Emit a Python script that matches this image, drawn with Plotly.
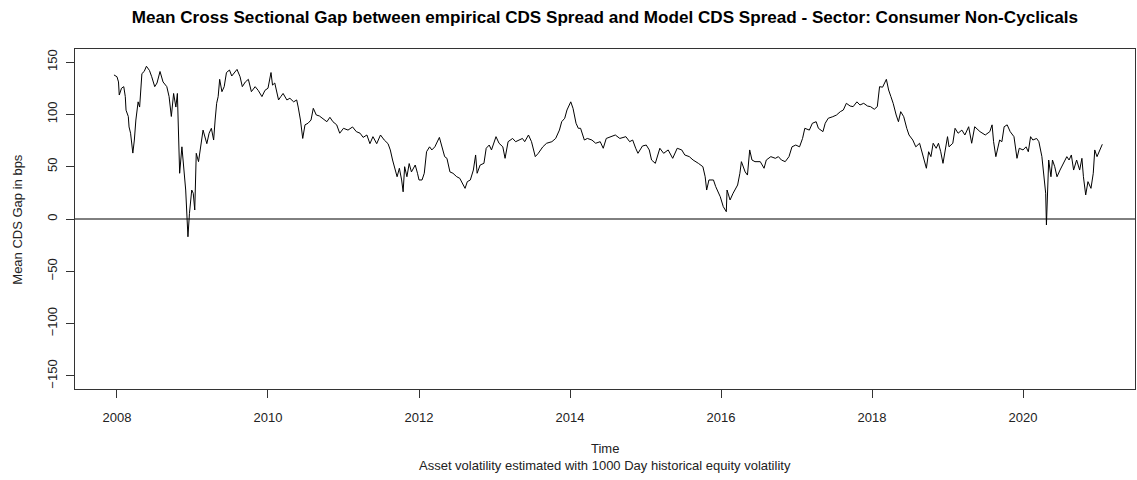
import plotly.graph_objects as go

# Time in decimal years and mean CDS gap (bps)
years = [
    2007.96, 2008.00, 2008.02, 2008.03, 2008.06, 2008.09, 2008.11, 2008.12, 2008.15, 2008.16,
    2008.18, 2008.21, 2008.23, 2008.25, 2008.28, 2008.30, 2008.33, 2008.36, 2008.39, 2008.43,
    2008.46, 2008.50, 2008.53, 2008.57, 2008.61, 2008.66, 2008.69, 2008.72, 2008.75, 2008.78,
    2008.80, 2008.81, 2008.83, 2008.86, 2008.88, 2008.91, 2008.94, 2008.96, 2008.99, 2009.01,
    2009.03, 2009.05, 2009.08, 2009.12, 2009.14, 2009.19, 2009.22, 2009.25, 2009.28, 2009.30,
    2009.32, 2009.34, 2009.36, 2009.39, 2009.42, 2009.45, 2009.49, 2009.52, 2009.56, 2009.59,
    2009.63, 2009.66, 2009.70, 2009.74, 2009.78, 2009.83, 2009.87, 2009.92, 2009.96, 2010.00,
    2010.04, 2010.06, 2010.09, 2010.14, 2010.17, 2010.20, 2010.25, 2010.29, 2010.34, 2010.38,
    2010.40, 2010.43, 2010.46, 2010.49, 2010.53, 2010.57, 2010.60, 2010.64, 2010.68, 2010.73,
    2010.78, 2010.82, 2010.86, 2010.91, 2010.95, 2011.00, 2011.06, 2011.12, 2011.17, 2011.22,
    2011.26, 2011.31, 2011.35, 2011.39, 2011.44, 2011.49, 2011.54, 2011.59, 2011.62, 2011.65,
    2011.68, 2011.71, 2011.74, 2011.77, 2011.79, 2011.81, 2011.84, 2011.87, 2011.90, 2011.95,
    2011.98, 2012.00, 2012.04, 2012.07, 2012.10, 2012.14, 2012.17, 2012.21, 2012.27, 2012.30,
    2012.34, 2012.37, 2012.41, 2012.45, 2012.50, 2012.54, 2012.59, 2012.61, 2012.64, 2012.68,
    2012.72, 2012.75, 2012.77, 2012.81, 2012.86, 2012.89, 2012.93, 2012.96, 2013.02, 2013.06,
    2013.11, 2013.14, 2013.18, 2013.24, 2013.28, 2013.33, 2013.37, 2013.40, 2013.45, 2013.49,
    2013.54, 2013.58, 2013.64, 2013.69, 2013.76, 2013.81, 2013.86, 2013.89, 2013.93, 2013.96,
    2014.01, 2014.04, 2014.08, 2014.11, 2014.14, 2014.19, 2014.23, 2014.29, 2014.34, 2014.40,
    2014.44, 2014.48, 2014.55, 2014.60, 2014.66, 2014.74, 2014.79, 2014.83, 2014.87, 2014.90,
    2014.96, 2015.01, 2015.05, 2015.08, 2015.13, 2015.16, 2015.19, 2015.24, 2015.30, 2015.36,
    2015.42, 2015.48, 2015.52, 2015.58, 2015.63, 2015.70, 2015.76, 2015.79, 2015.81, 2015.84,
    2015.90, 2015.93, 2015.99, 2016.03, 2016.07, 2016.08, 2016.12, 2016.16, 2016.22, 2016.25,
    2016.27, 2016.32, 2016.35, 2016.38, 2016.41, 2016.45, 2016.52, 2016.57, 2016.60, 2016.66,
    2016.72, 2016.76, 2016.80, 2016.85, 2016.90, 2016.94, 2016.99, 2017.04, 2017.08, 2017.11,
    2017.17, 2017.21, 2017.26, 2017.29, 2017.35, 2017.38, 2017.42, 2017.48, 2017.53, 2017.58,
    2017.62, 2017.66, 2017.71, 2017.75, 2017.80, 2017.84, 2017.89, 2017.94, 2017.98, 2018.03,
    2018.07, 2018.10, 2018.14, 2018.19, 2018.22, 2018.25, 2018.28, 2018.32, 2018.35, 2018.38,
    2018.42, 2018.46, 2018.49, 2018.54, 2018.58, 2018.63, 2018.67, 2018.72, 2018.75, 2018.78,
    2018.81, 2018.85, 2018.88, 2018.91, 2018.94, 2018.98, 2019.00, 2019.02, 2019.07, 2019.10,
    2019.14, 2019.19, 2019.23, 2019.28, 2019.32, 2019.36, 2019.43, 2019.50, 2019.56, 2019.59,
    2019.61, 2019.64, 2019.69, 2019.72, 2019.75, 2019.79, 2019.83, 2019.88, 2019.92, 2019.95,
    2020.00, 2020.04, 2020.07, 2020.10, 2020.13, 2020.18, 2020.21, 2020.25, 2020.28, 2020.30,
    2020.31, 2020.32, 2020.34, 2020.37, 2020.39, 2020.42, 2020.45, 2020.49, 2020.53, 2020.58,
    2020.61, 2020.64, 2020.67, 2020.71, 2020.75, 2020.78, 2020.80, 2020.83, 2020.86, 2020.90,
    2020.93, 2020.95, 2020.98, 2021.02, 2021.05,
]

gap_bps = [
    137.7, 136, 131, 118.5, 125, 126.5, 117, 104, 98, 88,
    82, 63, 75.5, 94.6, 112, 107, 139, 141, 146, 142,
    136, 126.5, 130, 141, 131, 126.5, 117, 98, 120, 107,
    120, 98, 43.7, 69, 50, 27.7, -17, 5.4, 27.7, 24.6,
    8.6, 62.8, 54.8, 78.7, 85, 72, 82, 86.7, 75.5, 94.6,
    110.6, 117, 133.5, 121.7, 126.5, 140, 142.4, 136.7, 141, 143,
    136, 126.5, 131, 133.5, 121.7, 126.5, 123, 117, 123, 125,
    140, 128, 130, 113.8, 117, 120, 113.8, 115.4, 112, 113.8,
    107, 94.6, 77, 90, 91.5, 94.6, 105.8, 99.4, 98.5, 95.3,
    93, 97.2, 93, 90, 82, 86.7, 85, 88, 83.5, 82,
    78, 80.3, 72, 78.7, 72, 80.3, 75.5, 72, 66, 56.4,
    46.8, 40.4, 48.5, 37.3, 26, 50, 40.4, 53, 45, 51.6,
    43.7, 37.3, 37.3, 43.7, 64.3, 69, 66, 69, 78, 69,
    59.6, 58, 45, 43.7, 40.4, 38.9, 32.5, 29.3, 35.7, 37.3,
    46.8, 61.2, 43.7, 51.6, 53.2, 67.6, 70.7, 66, 78.7, 72.4,
    69, 58, 73.9, 77, 73.9, 75.5, 77, 73.9, 80.3, 73.9,
    59.6, 62.8, 69, 72.4, 73.9, 77, 85, 93, 96.3, 104.2,
    112, 105.8, 91.5, 86.7, 86.7, 75.5, 77, 75.5, 72.4, 73.9,
    67.6, 77, 78.7, 80.3, 77, 78.7, 73.9, 75.5, 67.6, 62.8,
    69.8, 70.7, 66, 56.4, 53.2, 59.6, 67.6, 62.8, 66, 58,
    67.6, 66, 61.2, 59.6, 56.4, 53.2, 50, 40.4, 27.7, 37.3,
    37.3, 30.9, 21.3, 11.8, 7, 27.7, 18.2, 24.6, 32.5, 43.7,
    54.8, 45, 42, 66, 56.4, 54.8, 54.8, 48.5, 56.4, 59.6,
    58, 59.6, 56.4, 54.8, 59.6, 69, 70.7, 69, 77, 86.7,
    85, 91.5, 93, 86.7, 83.5, 91.5, 96.3, 97.8, 99.4, 102.6,
    104.2, 110.6, 108, 107.4, 112, 109, 110.6, 108, 107.4, 104.9,
    107.4, 126.5, 126, 133.5, 123.3, 117, 110.6, 99.4, 93, 102.6,
    97.8, 86.7, 80.3, 75.5, 69, 72.4, 62.8, 48.5, 64.3, 59.6,
    72.4, 67.6, 72.4, 64.3, 53.2, 70.7, 78.7, 69, 72.4, 86.7,
    82, 85, 80.3, 88.2, 72.4, 88.2, 83.5, 80.3, 83.5, 90,
    73.9, 59.6, 75.5, 73.9, 88.2, 90, 83.5, 78.7, 58, 67.6,
    66, 69, 64.3, 78.7, 75.5, 77, 73.9, 59.6, 40.4, 24.6,
    -5.7, 24.6, 56.4, 40.4, 56.4, 50, 40.4, 46.8, 53.2, 59.6,
    56.4, 61.2, 46.8, 56.4, 46.8, 58, 40.4, 23, 35.7, 29.3,
    43.7, 66, 59.6, 66, 71.4,
]

x_ticks = [2008, 2010, 2012, 2014, 2016, 2018, 2020]
y_ticks = [-150, -100, -50, 0, 50, 100, 150]

title_text = ("Mean Cross Sectional Gap between empirical CDS Spread and Model CDS Spread"
              " - Sector: Consumer Non-Cyclicals")
x_title = "Time"
subtitle = "Asset volatility estimated with 1000 Day historical equity volatility"
y_title = "Mean CDS Gap in bps"

FONT = "Liberation Sans, Arial, sans-serif"
TXT = "#222222"

fig = go.Figure()
fig.add_trace(go.Scatter(
    x=years, y=gap_bps, mode="lines",
    line=dict(color="black", width=1),
    showlegend=False, hoverinfo="skip",
))

fig.add_hline(y=0, line=dict(color="black", width=1))

fig.update_layout(
    width=1137, height=480,
    paper_bgcolor="white", plot_bgcolor="white",
    margin=dict(l=75, r=2, t=49, b=91, autoexpand=False),
    font=dict(family=FONT, size=13, color=TXT),
    hovermode=False,
    title=dict(
        text="<b>" + title_text + "</b>",
        x=0.532, xanchor="center", y=0.965, yanchor="middle",
        font=dict(family=FONT, size=17.1, color="black"),
    ),
    xaxis=dict(
        range=[2007.444, 2021.483],
        tickmode="array", tickvals=x_ticks,
        ticks="outside", ticklen=8, tickcolor="#333333", tickwidth=1,
        ticklabelstandoff=8,
        showgrid=False, zeroline=False, automargin=False,
        showline=True, linecolor="#333333", linewidth=1, mirror=True,
        tickfont=dict(family=FONT, size=13, color=TXT),
    ),
    yaxis=dict(
        range=[-162.5, 162.5],
        tickmode="array", tickvals=y_ticks,
        ticks="outside", ticklen=8, tickcolor="#333333", tickwidth=1,
        tickangle=-90, ticklabelstandoff=4,
        showgrid=False, zeroline=False, automargin=False,
        showline=True, linecolor="#333333", linewidth=1, mirror=True,
        tickfont=dict(family=FONT, size=13, color=TXT),
    ),
    annotations=[
        dict(text=x_title, xref="paper", yref="paper", x=0.5, y=-0.175,
             xanchor="center", yanchor="middle", showarrow=False,
             font=dict(family=FONT, size=13, color=TXT)),
        dict(text=subtitle, xref="paper", yref="paper", x=0.5, y=-0.225,
             xanchor="center", yanchor="middle", showarrow=False,
             font=dict(family=FONT, size=13, color=TXT)),
        dict(text=y_title, xref="paper", yref="paper", x=-0.055, y=0.5,
             xanchor="center", yanchor="middle", showarrow=False, textangle=-90,
             font=dict(family=FONT, size=13, color=TXT)),
    ],
)

fig.write_html(
    "out.html",
    config={"displayModeBar": False, "staticPlot": True},
    post_script="document.body.style.margin='0';document.body.style.overflow='hidden';",
)
